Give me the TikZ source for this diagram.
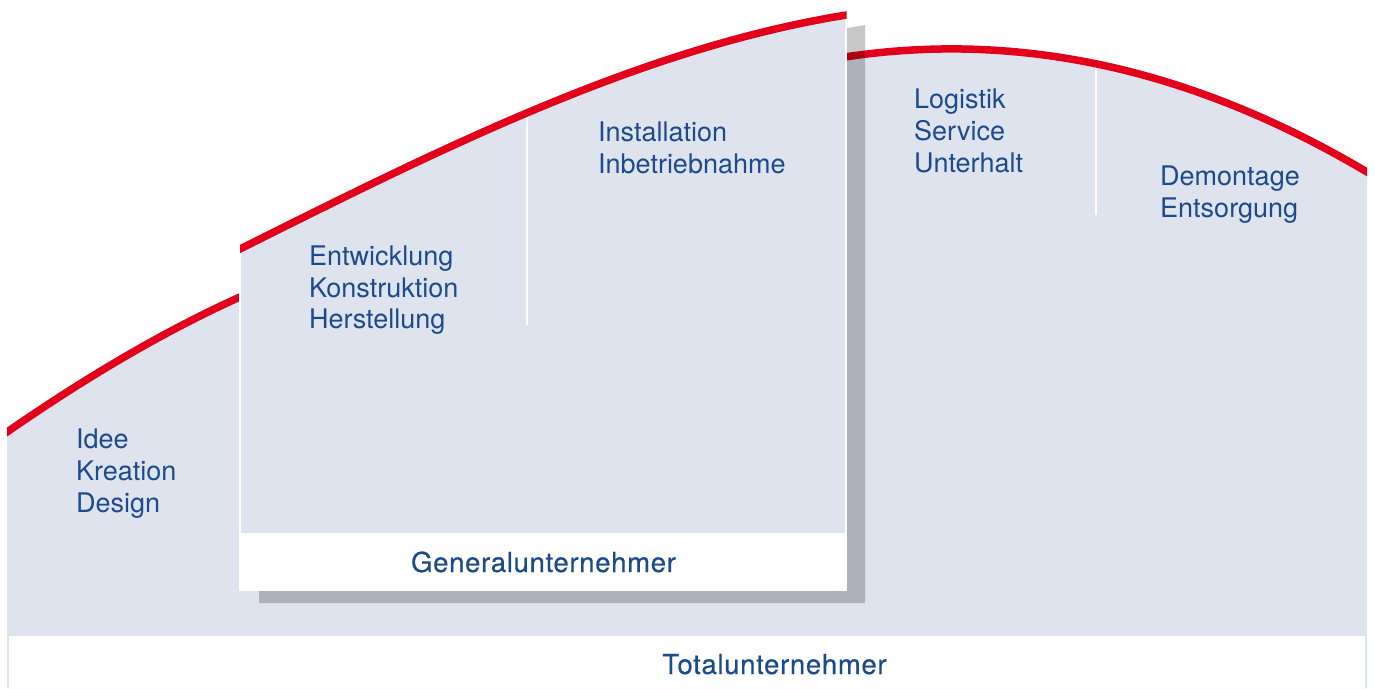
\documentclass[tikz,border=0pt]{standalone}
\usepackage{fontspec}
\setmainfont{TeX Gyre Heros}
\newfontfamily\medfont{TeX Gyre Heros}[LetterSpace=2.5,FakeBold=0.5]
\definecolor{bgblue}{HTML}{DFE3EE}
\definecolor{redline}{HTML}{E2001A}
\definecolor{txtblue}{RGB}{28,74,140}
\begin{document}
\begin{tikzpicture}[x=1pt,y=-1pt,
  lbl/.style={anchor=base west, inner sep=0pt, text=txtblue, font=\fontsize{27}{32}\selectfont},
  blbl/.style={anchor=base, inner sep=0pt, text=txtblue, font=\fontsize{27.5}{32}\selectfont\medfont},
  redcurve/.style={draw=redline, line width=7.5pt},
  divider/.style={draw=white, line width=2pt},
  shadowfill/.style={fill=black, opacity=0.22}]
\useasboundingbox (0,0) rectangle (1375,688);
% background shape with main curve
\begin{scope}
  \clip (7,0) rectangle (1367,688);
  \fill[bgblue] (-3,439) .. controls (78,382.3) and (159,333.5) .. (240,297)
     .. controls (440,207) and (645,87) .. (845,57)
     .. controls (1025,29.7) and (1205,71.6) .. (1385,182.9)
     -- (1385,688) -- (-3,688) -- cycle;
  \coordinate (d2top) at (1096,58);
  \coordinate (d2bot) at (1096,215);
  \draw[divider] (d2top) -- (d2bot);
  \draw[redcurve] (-3,439) .. controls (78,382.3) and (159,333.5) .. (240,297)
     .. controls (440,207) and (645,87) .. (845,57)
     .. controls (1025,29.7) and (1205,71.6) .. (1385,182.9);
\end{scope}
% bottom band
\fill[white] (9,636) rectangle (1365,688);
% shadow of the GU box
\begin{scope}
  \clip (259,0) rectangle (865,603);
  \fill[shadowfill] (249,264) .. controls (459,159) and (665,55) .. (875,23.5)
     -- (875,603) -- (249,603) -- cycle;
\end{scope}
% GU box
\begin{scope}
  \clip (240,0) rectangle (846,590);
  \fill[bgblue] (230,254) .. controls (440,149) and (646,45) .. (856,13.5)
     -- (856,590) -- (230,590) -- cycle;
\end{scope}
\fill[white] (240,533) rectangle (846,590);
\draw[white, line width=1.5pt] (240,250) -- (240,590) -- (846,590) -- (846,16);
\coordinate (d1top) at (527,108);
\coordinate (d1bot) at (527,325);
\draw[divider] (d1top) -- (d1bot);
\begin{scope}
  \clip (240,0) rectangle (846.5,600);
  \draw[redcurve] (230,254) .. controls (440,149) and (646,45) .. (856,13.5);
\end{scope}
% labels
\node[lbl] (idee) at (76,448) {Idee};
\node[lbl] (kreation) at (76,480) {Kreation};
\node[lbl] (design) at (76,512) {Design};
\node[lbl] (entw) at (309,265) {Entwicklung};
\node[lbl] (konst) at (309,297) {Konstruktion};
\node[lbl] (herst) at (309,328) {Herstellung};
\node[lbl] (inst) at (598,141) {Installation};
\node[lbl] (inbetr) at (598,173) {Inbetriebnahme};
\node[lbl] (logi) at (914,108) {Logistik};
\node[lbl] (serv) at (914,140) {Service};
\node[lbl] (unter) at (914,172) {Unterhalt};
\node[lbl] (demo) at (1160,185) {Demontage};
\node[lbl] (entso) at (1160,217) {Entsorgung};
\node[blbl] (gu) at (543.5,572) {Generalunternehmer};
\node[blbl] (tu) at (774.5,674) {Totalunternehmer};
\end{tikzpicture}
\end{document}
